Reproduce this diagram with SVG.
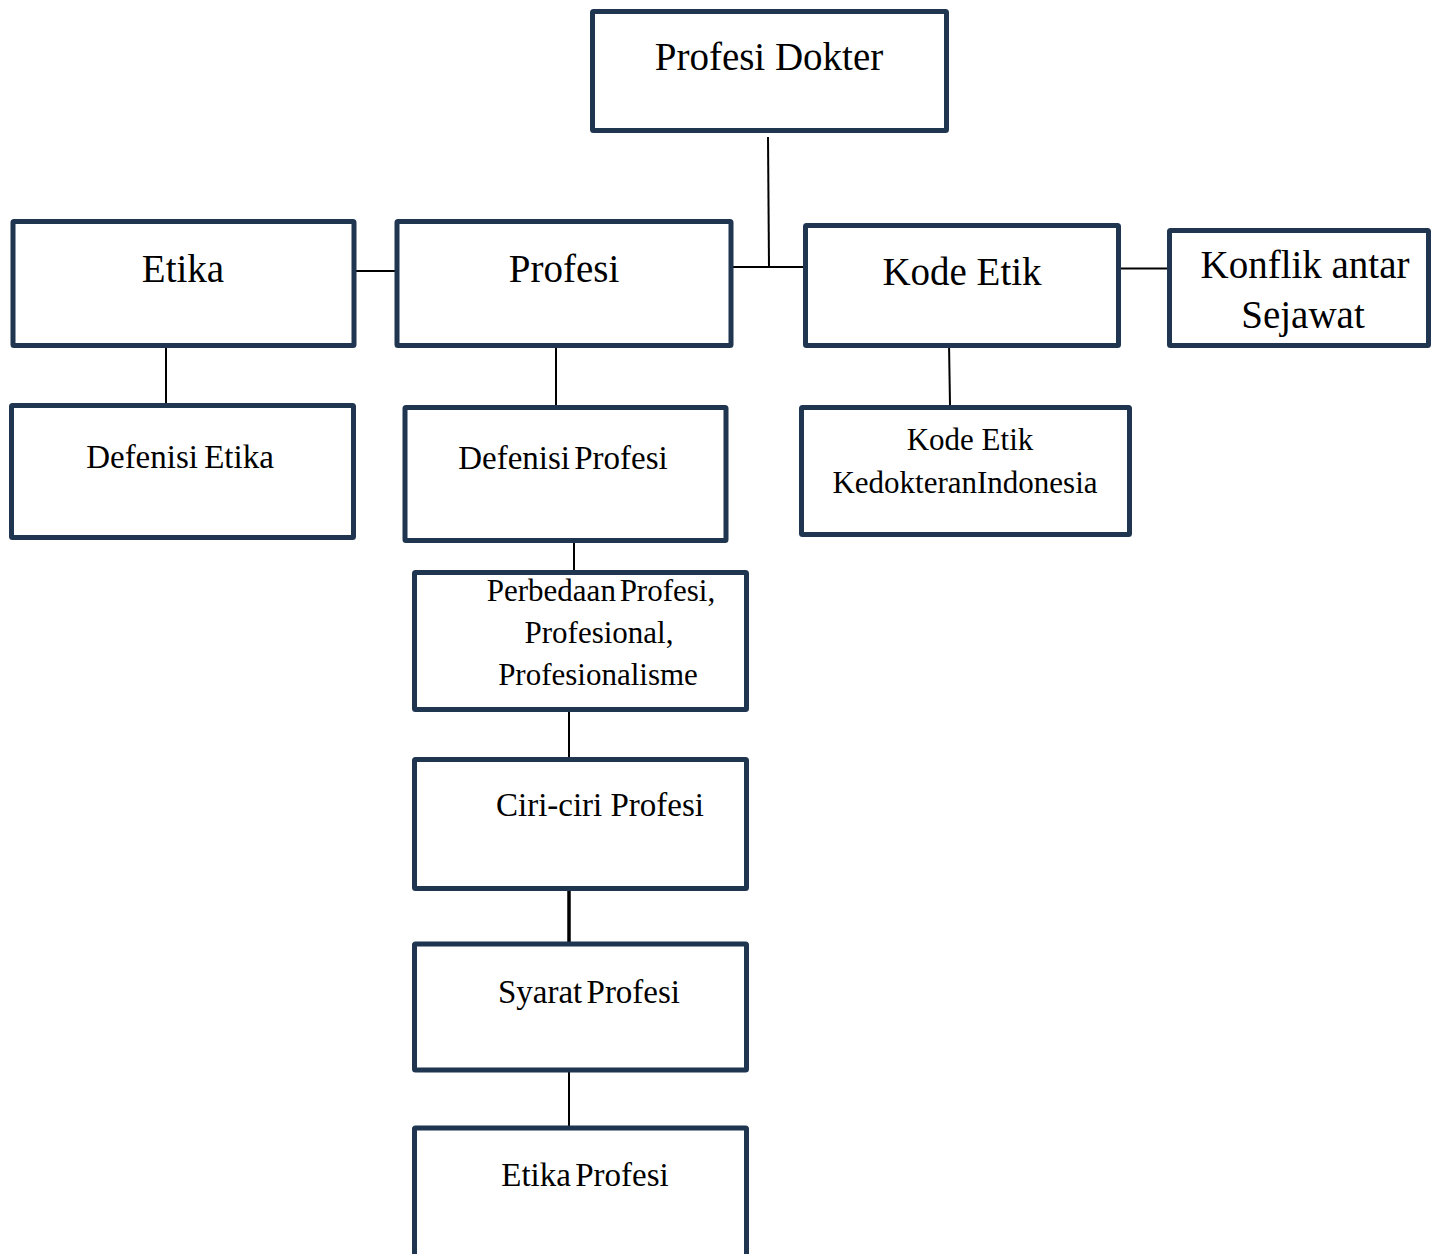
<svg xmlns="http://www.w3.org/2000/svg" width="1438" height="1254" viewBox="0 0 1438 1254">
<style>
.box{fill:#fff;stroke:#1f3550;stroke-width:5;stroke-linejoin:round}
.t{font-family:'Liberation Serif',serif;fill:#000;text-anchor:middle}
.big{font-size:39px}
.mid{font-size:33px}
.sm{font-size:31px}
.c{stroke:#000;stroke-width:2;fill:none}
</style>
<rect width="1438" height="1254" fill="#fff"/>
<g id="connectors">
<line class="c" x1="768" y1="137" x2="769" y2="267"/>
<line class="c" x1="728" y1="267" x2="805" y2="267"/>
<line class="c" x1="354" y1="271" x2="397" y2="271"/>
<line class="c" x1="166" y1="343" x2="166" y2="405"/>
<line class="c" x1="556" y1="343" x2="556" y2="405"/>
<line class="c" x1="949" y1="343" x2="950" y2="405"/>
<line class="c" x1="1118" y1="268.5" x2="1168" y2="268.5"/>
<line class="c" x1="574" y1="528" x2="574" y2="572"/>
<line class="c" x1="569" y1="710" x2="569" y2="759"/>
<line class="c" x1="569" y1="888" x2="569" y2="944" style="stroke-width:3.5"/>
<line class="c" x1="569" y1="1070" x2="569" y2="1128"/>
</g>
<g id="profesi-dokter">
<rect class="box" x="592.5" y="11.5" width="354" height="119" rx="1"/>
<text class="t big" x="769" y="70">Profesi Dokter</text>
</g>
<g id="etika">
<rect class="box" x="13" y="221.5" width="341" height="124" rx="1"/>
<text class="t big" x="183" y="282">Etika</text>
</g>
<g id="profesi">
<rect class="box" x="397" y="221.5" width="334" height="124" rx="1"/>
<text class="t big" x="564" y="282">Profesi</text>
</g>
<g id="kode-etik">
<rect class="box" x="805.5" y="225.5" width="313" height="120" rx="1"/>
<text class="t big" x="962" y="285">Kode Etik</text>
</g>
<g id="konflik">
<rect class="box" x="1169.5" y="230.5" width="259" height="115" rx="1"/>
<text class="t big" x="1305" y="278">Konflik antar</text>
<text class="t big" x="1303" y="328">Sejawat</text>
</g>
<g id="defenisi-etika">
<rect class="box" x="11.5" y="405.5" width="342" height="132" rx="1"/>
<text class="t mid" x="180" y="468" style="word-spacing:-2px">Defenisi Etika</text>
</g>
<g id="defenisi-profesi">
<rect class="box" x="405" y="407.5" width="321" height="133" rx="1"/>
<text class="t mid" x="563" y="469" style="word-spacing:-4px">Defenisi Profesi</text>
</g>
<g id="kode-etik-ki">
<rect class="box" x="801.5" y="407.5" width="328" height="127" rx="1"/>
<text class="t sm" x="970" y="450">Kode Etik</text>
<text class="t sm" x="965" y="493">KedokteranIndonesia</text>
</g>
<g id="perbedaan">
<rect class="box" x="414.5" y="572.5" width="332" height="137" rx="1"/>
<text class="t sm" x="601" y="601" style="word-spacing:-4px">Perbedaan Profesi,</text>
<text class="t sm" x="599" y="643">Profesional,</text>
<text class="t sm" x="598" y="685">Profesionalisme</text>
</g>
<g id="ciri-ciri">
<rect class="box" x="414.5" y="759.5" width="332" height="129" rx="1"/>
<text class="t mid" x="600" y="816">Ciri-ciri Profesi</text>
</g>
<g id="syarat">
<rect class="box" x="414.5" y="944" width="332" height="126" rx="1"/>
<text class="t mid" x="589" y="1003" style="word-spacing:-4px">Syarat Profesi</text>
</g>
<g id="etika-profesi">
<rect class="box" x="414.5" y="1128" width="332" height="160" rx="1"/>
<text class="t mid" x="585" y="1186" style="word-spacing:-4px">Etika Profesi</text>
</g>
</svg>
